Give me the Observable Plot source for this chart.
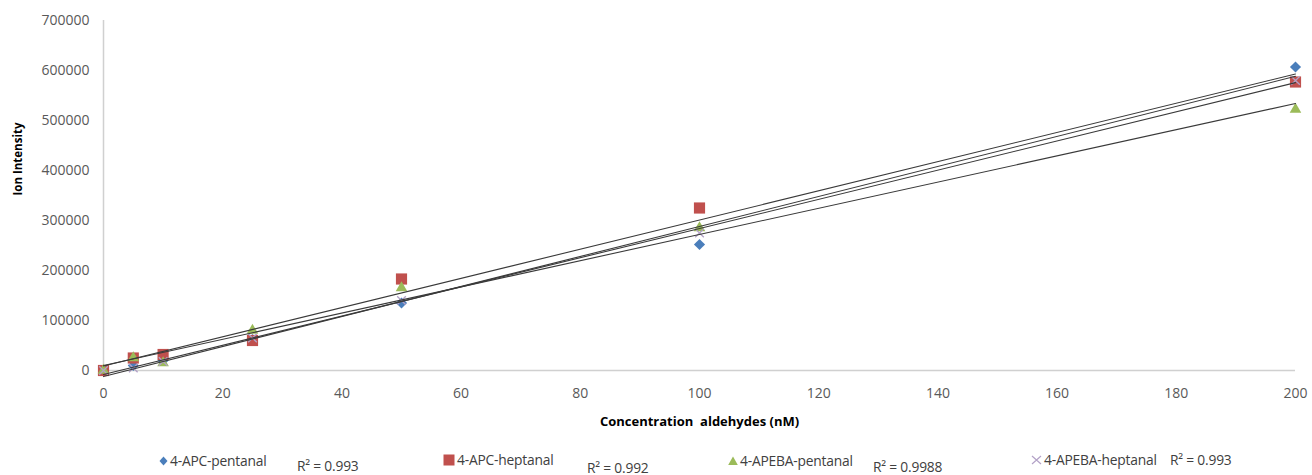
<!DOCTYPE html>
<html><head><meta charset="utf-8">
<script src="https://cdn.jsdelivr.net/npm/d3@7"></script>
<script src="https://cdn.jsdelivr.net/npm/@observablehq/plot@0.6"></script>
<style>
body{margin:0;background:#fff;font-family:"Open Sans",sans-serif}
#legend{position:relative;width:1312px;height:35px}
.li{position:absolute;font-size:13.8px;color:#404040;white-space:nowrap;line-height:16px;display:flex;align-items:center;letter-spacing:-0.2px}
.li svg{margin-right:2px}
</style></head><body>
<div id="chart"></div><div id="legend"></div>
<script>
// ---- data ----
const concentrations = [0, 5, 10, 25, 50, 100, 200];
const seriesNames = ["4-APC-pentanal", "4-APC-heptanal", "4-APEBA-pentanal", "4-APEBA-heptanal"];
const apcPentanal   = [0, 10000, 20000, 62000, 135000, 252000, 607000];
const apcHeptanal   = [0, 25000, 32000, 60000, 183000, 325000, 577000];
const apebaPentanal = [0, 25000, 15000, 80000, 165000, 285000, 522000];
const apebaHeptanal = [0, 5000, 18000, 65000, 140000, 275000, 580000];
const rSquared = ["0.993", "0.992", "0.9988", "0.993"];
const xTicks = [0, 20, 40, 60, 80, 100, 120, 140, 160, 180, 200];
const yTicks = [0, 100000, 200000, 300000, 400000, 500000, 600000, 700000];

const seriesValues = [apcPentanal, apcHeptanal, apebaPentanal, apebaHeptanal];
const rows = seriesNames.flatMap((s, i) => concentrations.map((c, j) => ({series: s, x: c, y: seriesValues[i][j]})));
const bySeries = s => rows.filter(d => d.series === s);

const colors = ["#4a7ebb", "#c0504d", "#9bbb59", "#b3a2c7"];

const chart = Plot.plot({
  width: 1312,
  height: 440,
  marginLeft: 103,
  marginRight: 17,
  marginTop: 20,
  marginBottom: 70,
  style: {fontFamily: "'Open Sans', sans-serif", fontSize: "14px", color: "#595959", background: "#fff"},
  x: {domain: [0, 200], ticks: xTicks, tickSize: 0, tickPadding: 18, label: null},
  y: {domain: [0, 700000], ticks: yTicks, tickSize: 0, tickPadding: 14, tickFormat: d => String(d), label: null},
  marks: [
    Plot.ruleX([0], {stroke: "#d0d0d0", strokeWidth: 1.5}),
    Plot.ruleY([0], {stroke: "#d0d0d0", strokeWidth: 1.5}),
    Plot.dot(bySeries(seriesNames[0]), {x: "x", y: "y", symbol: "diamond2", r: 5, fill: colors[0], stroke: "none"}),
    Plot.dot(bySeries(seriesNames[1]), {x: "x", y: "y", symbol: "square", r: 6.3, fill: colors[1], stroke: "none"}),
    Plot.dot(bySeries(seriesNames[2]), {x: "x", y: "y", symbol: "triangle", r: 4.3, fill: colors[2], stroke: "none"}),
    Plot.dot(bySeries(seriesNames[3]), {x: "x", y: "y", symbol: "times", r: 4, fill: "none", stroke: colors[3], strokeWidth: 1.3}),
    ...seriesNames.map(s => Plot.linearRegressionY(bySeries(s), {x: "x", y: "y", ci: 0, stroke: "#3a3a3a", strokeWidth: 1.1})),
    Plot.text(["Ion Intensity"], {frameAnchor: "left", dx: -85, rotate: -90, fontWeight: "bold", fontSize: 11.5, fill: "#000"}),
    Plot.text(["Concentration  aldehydes (nM)"], {frameAnchor: "bottom", dy: 55, fontWeight: "bold", fontSize: 13, fill: "#000"})
  ]
});
document.getElementById("chart").appendChild(chart);

// ---- legend ----
const legend = document.getElementById("legend");
const markerSvg = [
  `<svg width="9" height="10" viewBox="-4.5 -5 9 10"><path d="M0,-4.5L4,0L0,4.5L-4,0Z" fill="${colors[0]}"/></svg>`,
  `<svg width="12" height="12" viewBox="-6 -6 12 12"><rect x="-5.5" y="-5.5" width="11" height="11" fill="${colors[1]}"/></svg>`,
  `<svg width="10" height="10" viewBox="-5 -5 10 10"><path d="M0,-4.5L4.8,4L-4.8,4Z" fill="${colors[2]}"/></svg>`,
  `<svg width="11" height="10" viewBox="-5.5 -5 11 10"><path d="M-4.5,-4L4.5,4M-4.5,4L4.5,-4" stroke="${colors[3]}" stroke-width="1.2"/></svg>`
];
const itemPos = [[159, 461], [443, 460], [728, 461], [1031, 460]];
const r2Pos = [[297, 466], [587, 468], [873, 467], [1170, 460]];
seriesNames.forEach((s, i) => {
  const el = document.createElement("div");
  el.className = "li";
  el.style.left = itemPos[i][0] + "px";
  el.style.top = (itemPos[i][1] - 440 - 8) + "px";
  el.innerHTML = markerSvg[i] + `<span>${s}</span>`;
  legend.appendChild(el);
  const r = document.createElement("div");
  r.className = "li";
  r.style.left = r2Pos[i][0] + "px";
  r.style.top = (r2Pos[i][1] - 440 - 8) + "px";
  r.innerHTML = `R² = ${rSquared[i]}`;
  legend.appendChild(r);
});
</script>
</body></html>
